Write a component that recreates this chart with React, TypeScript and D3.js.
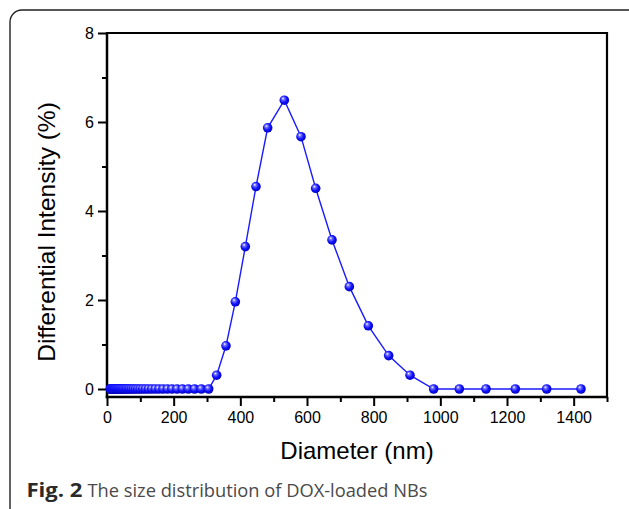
import { useRef, useEffect } from "react"
import * as d3 from "d3"

// size distribution (DLS, log-spaced bins)
const diameters = [
  9.9, 10.6, 11.4, 12.3, 13.3, 14.3, 15.4, 16.6, 17.9, 19.3, 20.7, 22.4, 24.1, 26.0,
  28.0, 30.1, 32.5, 35.0, 37.7, 40.6, 43.8, 47.2, 50.8, 54.8, 59.0, 63.6, 68.5, 73.8,
  79.6, 85.7, 92.4, 99.5, 107.3, 115.6, 124.5, 134.2, 144.6, 155.8, 167.9, 180.9,
  194.9, 210, 226.3, 243.8, 262.7, 283, 305,
  329, 357, 385, 415, 447, 482, 532, 582, 626, 675, 727, 784, 845, 909,
  980, 1057, 1137, 1225, 1319, 1422,
]
const intensities = [
  0, 0, 0, 0, 0, 0, 0, 0, 0, 0, 0, 0, 0, 0,
  0, 0, 0, 0, 0, 0, 0, 0, 0, 0, 0, 0, 0, 0,
  0, 0, 0, 0, 0, 0, 0, 0, 0, 0, 0, 0,
  0, 0, 0, 0, 0, 0, 0,
  0.31, 0.97, 1.96, 3.2, 4.55, 5.87, 6.49, 5.67, 4.51, 3.35, 2.3, 1.42, 0.75, 0.31,
  0, 0, 0, 0, 0, 0,
]
const xMajorTicks = [0, 200, 400, 600, 800, 1000, 1200, 1400]
const xMinorTicks = [100, 300, 500, 700, 900, 1100, 1300, 1500]
const yMajorTicks = [0, 2, 4, 6, 8]
const yMinorTicks = [1, 3, 5, 7]

export default function App() {
  const svgRef = useRef<SVGSVGElement>(null)

  useEffect(() => {
    const width = 629
    const height = 509
    const svg = d3.select(svgRef.current)
    svg.selectAll("*").remove()
    svg.attr("width", width).attr("height", height)

    const left = 107, right = 607, top = 33, bottom = 397
    const xScale = d3.scaleLinear().domain([0, 1500]).range([left, right])
    const yScale = d3.scaleLinear().domain([-0.18, 8]).range([bottom, top])

    const defs = svg.append("defs")
    const grad = defs.append("radialGradient")
      .attr("id", "ball").attr("cx", "45%").attr("cy", "45%").attr("r", "60%")
      .attr("fx", "35%").attr("fy", "30%")
    grad.append("stop").attr("offset", "0%").attr("stop-color", "#ffffff")
    grad.append("stop").attr("offset", "25%").attr("stop-color", "#6f6fff")
    grad.append("stop").attr("offset", "60%").attr("stop-color", "#1010ff")
    grad.append("stop").attr("offset", "100%").attr("stop-color", "#0000b0")

    // card border
    svg.append("rect")
      .attr("x", 10).attr("y", 10).attr("width", 630).attr("height", 510)
      .attr("rx", 12).attr("ry", 12)
      .attr("fill", "none").attr("stroke", "#222").attr("stroke-width", 1.4)

    const fontAxis = "'Liberation Sans', Arial, sans-serif"

    // x axis
    const xAxis = d3.axisBottom(xScale).tickValues(xMajorTicks).tickSize(9).tickPadding(6)
      .tickFormat(d3.format("d"))
    const gx = svg.append("g").attr("transform", `translate(0,${bottom})`).call(xAxis)
    const xMinor = d3.axisBottom(xScale).tickValues(xMinorTicks).tickSize(5).tickFormat(() => "")
    const gxm = svg.append("g").attr("transform", `translate(0,${bottom})`).call(xMinor)

    // y axis
    const yAxis = d3.axisLeft(yScale).tickValues(yMajorTicks).tickSize(9).tickPadding(4)
      .tickFormat(d3.format("d"))
    const gy = svg.append("g").attr("transform", `translate(${left},0)`).call(yAxis)
    const yMinor = d3.axisLeft(yScale).tickValues(yMinorTicks).tickSize(5).tickFormat(() => "")
    const gym = svg.append("g").attr("transform", `translate(${left},0)`).call(yMinor)

    ;[gx, gxm, gy, gym].forEach(g => {
      g.select(".domain").remove()
      g.selectAll(".tick line").attr("stroke", "#000").attr("stroke-width", 2)
      g.selectAll(".tick text")
        .attr("fill", "#000")
        .style("font-family", fontAxis)
        .style("font-size", "16px")
    })

    // frame
    svg.append("line").attr("x1", left).attr("x2", right).attr("y1", top).attr("y2", top)
      .attr("stroke", "#000").attr("stroke-width", 2)
    svg.append("line").attr("x1", right).attr("x2", right).attr("y1", top - 1).attr("y2", bottom + 1)
      .attr("stroke", "#000").attr("stroke-width", 2.2)
    svg.append("line").attr("x1", left).attr("x2", left).attr("y1", top - 1).attr("y2", bottom + 1.25)
      .attr("stroke", "#000").attr("stroke-width", 2.5)
    svg.append("line").attr("x1", left - 1.25).attr("x2", right + 1).attr("y1", bottom).attr("y2", bottom)
      .attr("stroke", "#000").attr("stroke-width", 2.5)

    // data
    const points = diameters.map((d, i) => ({ x: d, y: intensities[i] }))
    const line = d3.line<{ x: number; y: number }>()
      .x(d => xScale(d.x)).y(d => yScale(d.y))
    svg.append("path").datum(points)
      .attr("d", line)
      .attr("fill", "none").attr("stroke", "#1a1aff").attr("stroke-width", 1.4)

    svg.append("g").selectAll("circle")
      .data(points).enter().append("circle")
      .attr("cx", d => xScale(d.x)).attr("cy", d => yScale(d.y))
      .attr("r", 4.8)
      .attr("fill", "url(#ball)")

    // axis titles
    svg.append("text").text("Diameter (nm)")
      .attr("x", (left + right) / 2).attr("y", 459)
      .attr("text-anchor", "middle")
      .style("font-family", fontAxis).style("font-size", "24px")
    svg.append("text").text("Differential Intensity (%)")
      .attr("transform", `translate(55,232) rotate(-90)`)
      .attr("text-anchor", "middle")
      .style("font-family", fontAxis).style("font-size", "24.5px")

    // caption
    const capFont = "'Open Sans', 'Noto Sans', sans-serif"
    svg.append("text").text("Fig. 2")
      .attr("x", 26.5).attr("y", 496.5)
      .attr("textLength", 56).attr("lengthAdjust", "spacingAndGlyphs")
      .attr("font-weight", "bold").attr("fill", "#2a2a2a")
      .style("font-family", capFont).style("font-size", "19px")
    svg.append("text").text("The size distribution of DOX-loaded NBs")
      .attr("x", 87.5).attr("y", 496.5)
      .attr("textLength", 340).attr("lengthAdjust", "spacingAndGlyphs")
      .attr("fill", "#4a4a4a")
      .style("font-family", capFont).style("font-size", "18px")
  }, [])

  return (
    <div>
      <svg ref={svgRef} style={{ position: "absolute", left: 0, top: 0 }}></svg>
    </div>
  )
}
